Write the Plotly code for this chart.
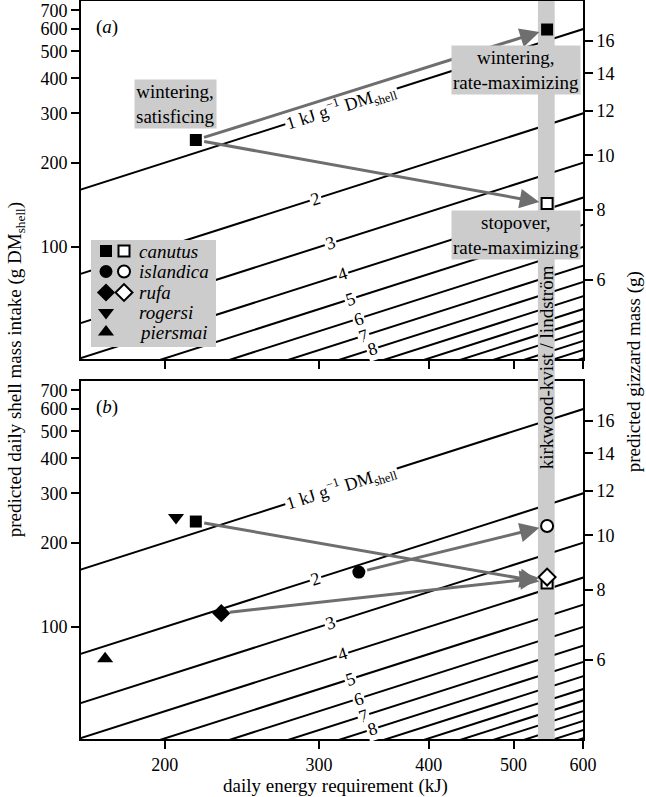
import math
import plotly.graph_objects as go

# ---------------- data ----------------
energy_density = list(range(1, 16))            # kJ per g DM shell (iso-lines)
iso_x_span = [150, 650]                        # kJ, line extent (clipped by axes)
labelled_density = [1, 2, 3, 4, 5, 6, 7, 8]
label_energy = [318, 297, 309, 319, 326, 333, 337, 345]
label_text = ["1 kJ g<sup>−1</sup> DM<sub>shell</sub>", "2", "3", "4", "5", "6", "7", "8"]

band_energy = [533, 557]                       # kirkwood-kvist / lindström
gizzard_coef = 0.686                           # gizzard (g) = coef * sqrt(intake)

# panel (a): canutus
a_filled_energy = [217, 546]
a_filled_intake = [241, 598]
a_open_energy = [546]
a_open_intake = [143]
a_arrow_x0 = [217, 217]
a_arrow_y0 = [241, 241]
a_arrow_x1 = [546, 546]
a_arrow_y1 = [598, 143]

# panel (b): all subspecies, satisficing (filled) and rate-maximizing (open)
subspecies = ["canutus", "islandica", "rufa", "rogersi", "piersmai"]
sub_symbols = ["square", "circle", "diamond", "triangle-down", "triangle-up"]
b_sat_energy = [217, 333, 232, 206, 171]
b_sat_intake = [238, 157, 112, 246, 77]
b_rate_energy = [546, 546, 546]
b_rate_intake = [143.6, 229.5, 150.7]
b_rate_symbols = ["square", "circle", "diamond"]

# axis settings
x_ticks = [200, 300, 400, 500, 600]
y_ticks = [100, 200, 300, 400, 500, 600, 700]
g_ticks = [6, 8, 10, 12, 14, 16]
x_lim = [160.5, 600]
y_lim = [39.8, 756]

# ---------------- figure ----------------
FONT = "Liberation Serif"
L = math.log10
xr = [L(x_lim[0]), L(x_lim[1])]
yr = [L(y_lim[0]), L(y_lim[1])]
gr = [L(gizzard_coef) + 0.5 * v for v in yr]

W, H = 646, 797
ml, mr, mt, mb = 81, 63, 1, 58
ph = H - mt - mb
bottom_px = H - mb
dom_a = [(bottom_px - 359) / ph, 1.0]
dom_b = [0.0, (bottom_px - 381) / ph]
panel_a_h = 359 - mt

GRAY = "#cccccc"
ARROW = "#6e6e6e"

fig = go.Figure()

def add_panel(xa, ya, ya_right):
    # iso-energy lines
    for k in energy_density:
        fig.add_trace(go.Scatter(
            x=iso_x_span, y=[v / k for v in iso_x_span], mode="lines",
            line=dict(color="black", width=2), xaxis=xa, yaxis=ya,
            hoverinfo="skip", showlegend=False))
    # vertical gray band
    fig.add_trace(go.Scatter(
        x=[band_energy[0], band_energy[1], band_energy[1], band_energy[0], band_energy[0]],
        y=[10, 10, 5000, 5000, 10], mode="lines", fill="toself",
        fillcolor=GRAY, line=dict(width=0), xaxis=xa, yaxis=ya,
        hoverinfo="skip", showlegend=False))
    # dummy trace to realise the right-hand axis
    fig.add_trace(go.Scatter(x=[300], y=[10], mode="markers", marker=dict(opacity=0),
                             xaxis=xa, yaxis=ya_right, hoverinfo="skip", showlegend=False))

add_panel("x", "y", "y2")
add_panel("x2", "y3", "y4")

def mk(symbol, filled, size):
    return dict(symbol=symbol, size=size,
                color="black" if filled else "white",
                line=dict(color="black", width=2 if not filled else 0))

sizes = {"square": 12, "circle": 13, "diamond": 14, "triangle-down": 14, "triangle-up": 14}

# panel (a) markers
fig.add_trace(go.Scatter(x=a_filled_energy, y=a_filled_intake, mode="markers",
                         marker=mk("square", True, 12), xaxis="x", yaxis="y",
                         showlegend=False))
fig.add_trace(go.Scatter(x=a_open_energy, y=a_open_intake, mode="markers",
                         marker=mk("square", False, 11), xaxis="x", yaxis="y",
                         showlegend=False))

# panel (b) markers
for e, v, s in zip(b_sat_energy, b_sat_intake, sub_symbols):
    fig.add_trace(go.Scatter(x=[e], y=[v], mode="markers", marker=mk(s, True, sizes[s]),
                             xaxis="x2", yaxis="y3", showlegend=False))
for e, v, s in zip(b_rate_energy, b_rate_intake, b_rate_symbols):
    fig.add_trace(go.Scatter(x=[e], y=[v], mode="markers",
                             marker=mk(s, False, sizes[s] - 1),
                             xaxis="x2", yaxis="y3", showlegend=False))

# legend (own overlay axes in pixel units of panel a, measured from the page top)
leg_rows = [251, 271.5, 292.5, 312.5, 332]
fig.add_trace(go.Scatter(x=[10, 135, 135, 10, 10], y=[240, 240, 347, 347, 240],
                         mode="lines", fill="toself", fillcolor=GRAY, line=dict(width=0),
                         xaxis="x5", yaxis="y5", hoverinfo="skip", showlegend=False))
for s, yy in zip(sub_symbols, leg_rows):
    fig.add_trace(go.Scatter(x=[25], y=[yy], mode="markers", marker=mk(s, True, sizes[s]),
                             xaxis="x5", yaxis="y5", showlegend=False, hoverinfo="skip"))
for s, yy in zip(b_rate_symbols, leg_rows[:3]):
    fig.add_trace(go.Scatter(x=[43], y=[yy], mode="markers",
                             marker=mk(s, False, sizes[s] - 1),
                             xaxis="x5", yaxis="y5", showlegend=False, hoverinfo="skip"))

ann = []
for name, yy in zip(subspecies, leg_rows):
    ann.append(dict(x=56, y=yy, xref="x5", yref="y5", text="<i>%s</i>" % name,
                    showarrow=False, xanchor="left", yanchor="middle",
                    font=dict(family=FONT, size=19, color="black")))

# line labels
angle = -math.degrees(math.atan((panel_a_h / (yr[1] - yr[0]))
                                / ((W - ml - mr) / (xr[1] - xr[0]))))
for xa, ya in (("x", "y"), ("x2", "y3")):
    for k, e, t in zip(labelled_density, label_energy, label_text):
        ann.append(dict(x=L(e), y=L(e / k), xref=xa, yref=ya, text=t, showarrow=False,
                        xanchor="center", yanchor="middle",
                        textangle=angle, bgcolor="white", borderpad=1,
                        font=dict(family=FONT, size=18, color="black")))

# arrows
def arrow(x0, y0, x1, y1, xa, ya):
    return dict(x=L(x1), y=L(y1), ax=L(x0), ay=L(y0), xref=xa, yref=ya,
                axref=xa, ayref=ya, text="", showarrow=True, arrowhead=2,
                arrowsize=1.3, arrowwidth=3, arrowcolor=ARROW,
                standoff=8, startstandoff=7)

for x0, y0, x1, y1 in zip(a_arrow_x0, a_arrow_y0, a_arrow_x1, a_arrow_y1):
    ann.append(arrow(x0, y0, x1, y1, "x", "y"))
for x0, y0, x1, y1 in zip(b_sat_energy[:3], b_sat_intake[:3], b_rate_energy, b_rate_intake):
    ann.append(arrow(x0, y0, x1, y1, "x2", "y3"))

# gray text boxes (panel a), positions in panel-domain fractions
def dom_y(py):
    return 1 - (py - mt) / panel_a_h

for t, xd, py in (("wintering,<br>satisficing", 0.189, 104),
                  ("wintering,<br>rate-maximizing", 0.867, 70),
                  ("stopover,<br>rate-maximizing", 0.867, 235)):
    ann.append(dict(x=xd, y=dom_y(py), xref="x domain", yref="y domain", text=t,
                    xanchor="center", yanchor="middle",
                    showarrow=False, bgcolor=GRAY, borderpad=1,
                    font=dict(family=FONT, size=19, color="black")))

# panel labels
ann.append(dict(x=0.052, y=dom_y(27), xref="x domain", yref="y domain", text="(<i>a</i>)",
                xanchor="center", yanchor="middle",
                showarrow=False, font=dict(family=FONT, size=19, color="black")))
ann.append(dict(x=0.052, y=dom_y(27), xref="x2 domain", yref="y3 domain", text="(<i>b</i>)",
                xanchor="center", yanchor="middle",
                showarrow=False, font=dict(family=FONT, size=19, color="black")))

# axis titles
def paper_y(py):
    return (bottom_px - py) / ph

ann.append(dict(x=-0.129, y=paper_y(370), xref="paper", yref="paper", textangle=-90,
                xanchor="center", yanchor="middle",
                text="predicted daily shell mass intake (g DM<sub>shell</sub>)",
                showarrow=False, font=dict(family=FONT, size=19, color="black")))
ann.append(dict(x=1.102, y=paper_y(372), xref="paper", yref="paper", textangle=-90,
                xanchor="center", yanchor="middle",
                text="predicted gizzard mass (g)",
                showarrow=False, font=dict(family=FONT, size=19, color="black")))
ann.append(dict(x=0.506, y=paper_y(786), xref="paper", yref="paper",
                text="daily energy requirement (kJ)", xanchor="center", yanchor="middle",
                showarrow=False, font=dict(family=FONT, size=19, color="black")))

# band label + band in gap between panels
bx0 = (L(band_energy[0]) - xr[0]) / (xr[1] - xr[0])
bx1 = (L(band_energy[1]) - xr[0]) / (xr[1] - xr[0])
ann.append(dict(x=(bx0 + bx1) / 2, y=paper_y(367), xref="paper", yref="paper",
                xanchor="center", yanchor="middle",
                textangle=-90, text="kirkwood-kvist / lindström", showarrow=False,
                font=dict(family=FONT, size=19, color="black")))
shapes = [dict(type="rect", xref="paper", yref="paper", x0=bx0, x1=bx1,
               y0=dom_b[1] - 2 / ph, y1=dom_a[0] + 2 / ph, fillcolor=GRAY,
               line=dict(width=0), layer="above")]

tickfont = dict(family=FONT, size=18, color="black")
common = dict(ticks="outside", ticklen=8, tickwidth=2, tickcolor="black",
              showline=True, linecolor="black", linewidth=2,
              showgrid=False, zeroline=False, tickfont=tickfont, automargin=False,
              ticklabeloverflow="allow")
xcommon = dict(type="log", range=xr, tickvals=x_ticks, ticktext=[str(v) for v in x_ticks],
               mirror=True, **common)
ycommon = dict(type="log", range=yr, tickvals=y_ticks, ticktext=[str(v) for v in y_ticks],
               **common)
gcommon = dict(type="log", range=gr, tickvals=g_ticks, ticktext=[str(v) for v in g_ticks],
               side="right", **common)

fig.update_layout(
    width=W, height=H,
    margin=dict(l=ml, r=mr, t=mt, b=mb, pad=0, autoexpand=False),
    paper_bgcolor="white", plot_bgcolor="rgba(0,0,0,0)",
    showlegend=False,
    xaxis=dict(domain=[0, 1], anchor="y", showticklabels=False, **xcommon),
    yaxis=dict(domain=dom_a, anchor="x", **ycommon),
    yaxis2=dict(overlaying="y", anchor="x", **gcommon),
    xaxis2=dict(domain=[0, 1], anchor="y3", **xcommon),
    yaxis3=dict(domain=dom_b, anchor="x2", **ycommon),
    yaxis4=dict(overlaying="y3", anchor="x2", **gcommon),
    xaxis5=dict(overlaying="x", anchor="y5", range=[0, W - ml - mr], visible=False),
    yaxis5=dict(overlaying="y", anchor="x5", range=[359, mt], visible=False),
    annotations=ann,
    shapes=shapes,
)

fig.write_html("out.html", config={"displayModeBar": False},
               post_script="document.body.style.margin='0px';")
